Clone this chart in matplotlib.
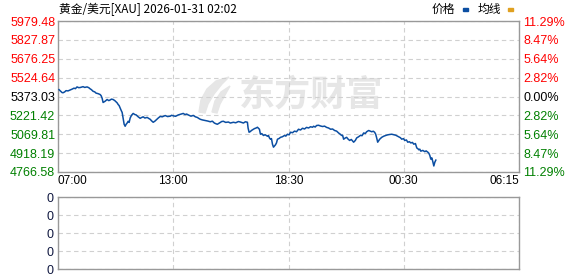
import matplotlib
matplotlib.use("Agg")
from matplotlib import pyplot as plt
from matplotlib.patches import Rectangle, Polygon

# minutes since 07:00 (axis spans 0..1380, ticks every quarter)
minutes = [3, 6, 9, 12, 15, 20, 24, 30, 36, 42, 48, 52, 57, 62, 66, 70, 75, 80, 87, 92,
           96, 100, 105, 110, 114, 120, 126, 129, 132, 135, 138, 141, 144, 147, 152, 156, 160, 165, 170, 174,
           177, 180, 183, 186, 189, 192, 195, 198, 201, 204, 207, 210, 213, 216, 220, 225, 230, 234, 240, 246,
           250, 255, 260, 267, 272, 276, 280, 285, 290, 294, 300, 306, 312, 321, 328, 336, 340, 345, 352, 360,
           366, 375, 380, 385, 390, 398, 405, 411, 417, 422, 426, 432, 441, 448, 456, 462, 468, 472, 477, 482,
           486, 490, 495, 502, 510, 516, 525, 532, 540, 546, 555, 561, 567, 569, 572, 576, 579, 584, 588, 593,
           597, 600, 603, 606, 610, 615, 620, 627, 630, 633, 636, 639, 642, 645, 648, 651, 654, 657, 662, 666,
           672, 678, 682, 687, 692, 696, 702, 708, 714, 720, 726, 732, 738, 744, 750, 756, 762, 765, 770, 774,
           780, 786, 792, 798, 804, 810, 816, 822, 828, 834, 840, 845, 849, 852, 855, 860, 864, 868, 873, 878,
           885, 890, 894, 900, 906, 910, 915, 920, 924, 930, 935, 939, 944, 948, 951, 954, 957, 960, 963, 969,
           975, 981, 987, 993, 999, 1005, 1011, 1016, 1020, 1025, 1029, 1034, 1038, 1043, 1047, 1052, 1056, 1061, 1065, 1070,
           1074, 1078, 1080, 1083, 1086, 1092, 1098, 1102, 1107, 1110, 1113, 1116, 1119, 1122, 1125, 1128, 1131]
prices = [5428, 5420, 5412, 5405, 5403, 5410, 5420, 5418, 5425, 5432, 5440, 5436, 5450, 5444, 5445, 5448, 5452, 5446, 5450, 5444,
          5435, 5428, 5415, 5410, 5400, 5396, 5389, 5380, 5360, 5325, 5330, 5335, 5342, 5349, 5340, 5345, 5352, 5349, 5340, 5330,
          5322, 5309, 5300, 5280, 5262, 5245, 5200, 5150, 5134, 5150, 5160, 5174, 5165, 5200, 5222, 5237, 5228, 5225, 5210, 5198,
          5204, 5210, 5200, 5205, 5196, 5190, 5178, 5166, 5175, 5185, 5200, 5213, 5210, 5220, 5212, 5215, 5222, 5218, 5214, 5225,
          5230, 5237, 5228, 5232, 5225, 5215, 5221, 5210, 5205, 5196, 5190, 5185, 5180, 5176, 5170, 5175, 5160, 5155, 5150, 5158,
          5165, 5172, 5174, 5165, 5168, 5160, 5166, 5162, 5172, 5168, 5160, 5170, 5166, 5120, 5086, 5092, 5100, 5108, 5115, 5120,
          5126, 5118, 5110, 5070, 5075, 5060, 5066, 5054, 5060, 5040, 5030, 5035, 4990, 4966, 4975, 4985, 5000, 5030, 5036, 5045,
          5050, 5060, 5055, 5070, 5065, 5086, 5082, 5095, 5090, 5110, 5104, 5118, 5112, 5125, 5120, 5130, 5126, 5134, 5128, 5140,
          5142, 5136, 5132, 5135, 5125, 5120, 5110, 5112, 5100, 5095, 5080, 5070, 5060, 5062, 5030, 5040, 5045, 5032, 5020, 5028,
          5006, 5020, 5040, 5050, 5062, 5058, 5080, 5076, 5090, 5100, 5094, 5090, 5094, 5085, 5070, 5040, 5006, 5018, 5030, 5045,
          5054, 5060, 5065, 5068, 5070, 5066, 5062, 5055, 5050, 5042, 5030, 5035, 5020, 5024, 5006, 5010, 5000, 5004, 4990, 4995,
          4960, 4952, 4945, 4950, 4934, 4940, 4930, 4936, 4926, 4918, 4900, 4870, 4880, 4850, 4815, 4845, 4862]

prev_close = 5373.03
left_ticks = [4766.58, 4918.19, 5069.81, 5221.42, 5373.03, 5524.64, 5676.25, 5827.87, 5979.48]
pct_labels = ["11.29%", "8.47%", "5.64%", "2.82%", "0.00%", "2.82%", "5.64%", "8.47%", "11.29%"]
time_ticks = [0, 345, 690, 1035, 1380]
time_labels = ["07:00", "13:00", "18:30", "00:30", "06:15"]

cjk = ['Noto Sans CJK SC', 'DejaVu Sans']
red, green, black = '#ff0000', '#008000', '#000000'
tick_colors = [green] * 4 + [black] + [red] * 4
wm = '#e6e6e6'

fig = plt.figure(figsize=(5.78, 2.76), dpi=100)
ax = fig.add_axes([58 / 578, 1 - 172 / 276, 461 / 578, 151 / 276])
ax2 = fig.add_axes([58 / 578, 1 - 269 / 276, 461 / 578, 72 / 276])

# watermark: logo blade + text, placed in pixel-ish axes fractions
def px(x, y):
    return ((x - 58) / 461, (172 - y) / 151)

blade = [px(199, 112), px(201, 100), px(207, 89), px(216, 81), px(229, 77),
         px(222, 84), px(214, 94), px(208, 104), px(205, 113)]
blade2 = [px(212, 112), px(215, 101), px(221, 92), px(230, 86),
          px(225, 95), px(220, 104), px(217, 113)]
ax.add_patch(Polygon(blade, closed=True, transform=ax.transAxes, color=wm, zorder=0))
ax.add_patch(Polygon(blade2, closed=True, transform=ax.transAxes, color=wm, zorder=0))
ax.text(0.393, 0.507, "东方财富", transform=ax.transAxes, family=cjk, fontsize=26,
        fontweight='bold', color=wm, ha='left', va='center', zorder=0)

ax.plot(minutes, prices, color='#0b4ea2', linewidth=1.1, zorder=3)
ax.set_xlim(0, 1380)
ax.set_ylim(left_ticks[0], left_ticks[-1])

for a in (ax, ax2):
    a.set_xticks(time_ticks)
    a.tick_params(length=0, labelsize=9)
    a.grid(True, color='#d0d0d0', linestyle=(0, (4, 3)), linewidth=0.8)
    for s in a.spines.values():
        s.set_color('#999999')
        s.set_linewidth(1.0)
    a.set_axisbelow(True)

ax.set_yticks(left_ticks)
ax.set_yticklabels(["%.2f" % v for v in left_ticks], family='Liberation Sans', fontsize=9)
for lbl, c in zip(ax.get_yticklabels(), tick_colors):
    lbl.set_color(c)
ax.tick_params(axis='y', pad=2)
ax.set_xticklabels([])

# x tick labels under the price panel
for t, s in zip(time_ticks, time_labels):
    ha = 'left' if t == 0 else ('right' if t == 1380 else 'center')
    ax.text(t, left_ticks[0] - 70, s, ha=ha, va='center', fontsize=8.5,
            family='Liberation Sans', color='#000000')

# right percentage labels
axr = ax.twinx()
axr.set_ylim(ax.get_ylim())
axr.set_yticks(left_ticks)
axr.set_yticklabels(pct_labels, family='Liberation Sans', fontsize=9)
for lbl, c in zip(axr.get_yticklabels(), tick_colors):
    lbl.set_color(c)
axr.tick_params(length=0, pad=3)
for s in axr.spines.values():
    s.set_visible(False)

# volume panel (empty)
ax2.set_xlim(0, 1380)
ax2.set_ylim(0, 4)
ax2.set_yticks([0, 1, 2, 3, 4])
ax2.set_yticklabels(["0"] * 5, family='Liberation Sans', fontsize=9, color='#101840')
ax2.set_xticklabels([])

# title and legend
fig.text(59 / 578, 1 - 9 / 276, "黄金/美元[XAU] 2026-01-31 02:02", family=cjk,
         fontsize=8.5, ha='left', va='center')
fig.text(432 / 578, 1 - 9 / 276, "价格", family=cjk, fontsize=8.5, ha='left', va='center')
fig.text(478 / 578, 1 - 9 / 276, "均线", family=cjk, fontsize=8.5, ha='left', va='center')
fig.patches.append(Rectangle((463 / 578, 1 - 11 / 276), 5 / 578, 3 / 276,
                             transform=fig.transFigure, color='#0b4ea2'))
fig.patches.append(Rectangle((508 / 578, 1 - 11 / 276), 5 / 578, 3 / 276,
                             transform=fig.transFigure, color='#e0a020'))

fig.savefig("out.png", dpi=100)
